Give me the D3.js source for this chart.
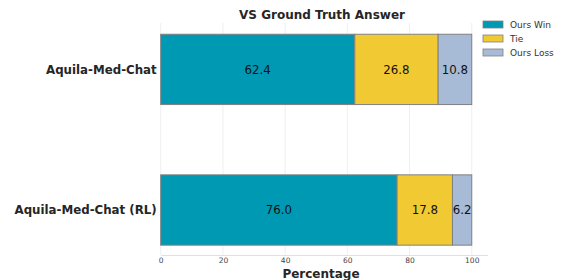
<!DOCTYPE html>
<html>
<head>
<meta charset="utf-8">
<script src="https://cdn.jsdelivr.net/npm/d3@7"></script>
<style>
  body { margin: 0; background: #fff; }
  svg text { font-family: "DejaVu Sans", sans-serif; }
</style>
</head>
<body>
<div id="chart"></div>
<script>
// data
const models = ["Aquila-Med-Chat", "Aquila-Med-Chat (RL)"];
const seriesNames = ["Ours Win", "Tie", "Ours Loss"];
const winVals = [62.4, 76.0];
const tieVals = [26.8, 17.8];
const lossVals = [10.8, 6.2];
const xTicks = [0, 20, 40, 60, 80, 100];

const COLORS = ["#0099b3", "#f1c933", "#a7bbd7"];
const FONT = "DejaVu Sans, sans-serif";

const width = 561, height = 280;
const margin = { top: 23, right: 73.7, bottom: 25, left: 160.7 };
const innerW = width - margin.left - margin.right;
const innerH = height - margin.top - margin.bottom;

const svg = d3.select("#chart").append("svg")
  .attr("width", width).attr("height", height);

const g = svg.append("g").attr("transform", `translate(${margin.left},${margin.top})`);

const x = d3.scaleLinear().domain([0, 105]).range([0, innerW]);
// categories at 0 and 1, bar half-height 0.25
const y = d3.scaleLinear().domain([-0.33, 1.32]).range([0, innerH]);

// grid
g.selectAll("line.grid").data(xTicks).enter().append("line")
  .attr("x1", d => x(d)).attr("x2", d => x(d))
  .attr("y1", 0).attr("y2", innerH)
  .attr("stroke", "#ebebeb").attr("stroke-width", 0.8);

// stacked bars
const rows = models.map((m, i) => ({ model: m, idx: i, vals: [winVals[i], tieVals[i], lossVals[i]] }));
rows.forEach(r => {
  let acc = 0;
  r.vals.forEach((v, j) => {
    const x0 = acc;
    acc += v;
    g.append("rect")
      .attr("x", x(x0)).attr("width", x(acc) - x(x0))
      .attr("y", y(r.idx - 0.25)).attr("height", y(r.idx + 0.25) - y(r.idx - 0.25))
      .attr("fill", COLORS[j]).attr("stroke", "#808080").attr("stroke-width", 1);
    g.append("text")
      .attr("x", x(x0 + v / 2)).attr("y", y(r.idx))
      .attr("dy", "0.35em").attr("text-anchor", "middle")
      .attr("font-family", FONT)
      .attr("font-size", "11.8px").attr("fill", "#111")
      .text(v.toFixed(1));
  });
  g.append("text")
    .attr("x", -4).attr("y", y(r.idx))
    .attr("dy", "0.35em").attr("text-anchor", "end")
    .attr("font-family", FONT)
    .attr("font-size", "11.8px").attr("font-weight", "bold").attr("fill", "#262626")
    .text(r.model);
});

// x axis
const xAxis = d3.axisBottom(x).tickValues(xTicks).tickSize(0).tickPadding(3);
const ax = g.append("g").attr("transform", `translate(0,${innerH})`).call(xAxis);
ax.attr("font-family", FONT);
ax.select(".domain").attr("stroke", "#e0e0e0").attr("stroke-width", 1);
ax.selectAll("text").attr("font-size", "7.5px").attr("fill", "#444");

g.append("text")
  .attr("x", innerW / 2 - 3).attr("y", innerH + 23)
  .attr("text-anchor", "middle").attr("font-family", FONT)
  .attr("font-size", "12px").attr("font-weight", "bold")
  .attr("fill", "#262626").text("Percentage");

// title
svg.append("text")
  .attr("x", 322).attr("y", 19)
  .attr("text-anchor", "middle").attr("font-family", FONT)
  .attr("font-size", "12px").attr("font-weight", "bold")
  .attr("fill", "#262626").text("VS Ground Truth Answer");

// legend
const leg = svg.append("g").attr("transform", "translate(483,21)");
seriesNames.forEach((s, i) => {
  leg.append("rect").attr("x", 0).attr("y", i * 14).attr("width", 20).attr("height", 7)
    .attr("fill", COLORS[i]).attr("stroke", "#808080").attr("stroke-width", 0.8);
  leg.append("text").attr("x", 27).attr("y", i * 14 + 3.5).attr("dy", "0.35em")
    .attr("font-family", FONT)
    .attr("font-size", "9px").attr("fill", "#333").text(s);
});
</script>
</body>
</html>
